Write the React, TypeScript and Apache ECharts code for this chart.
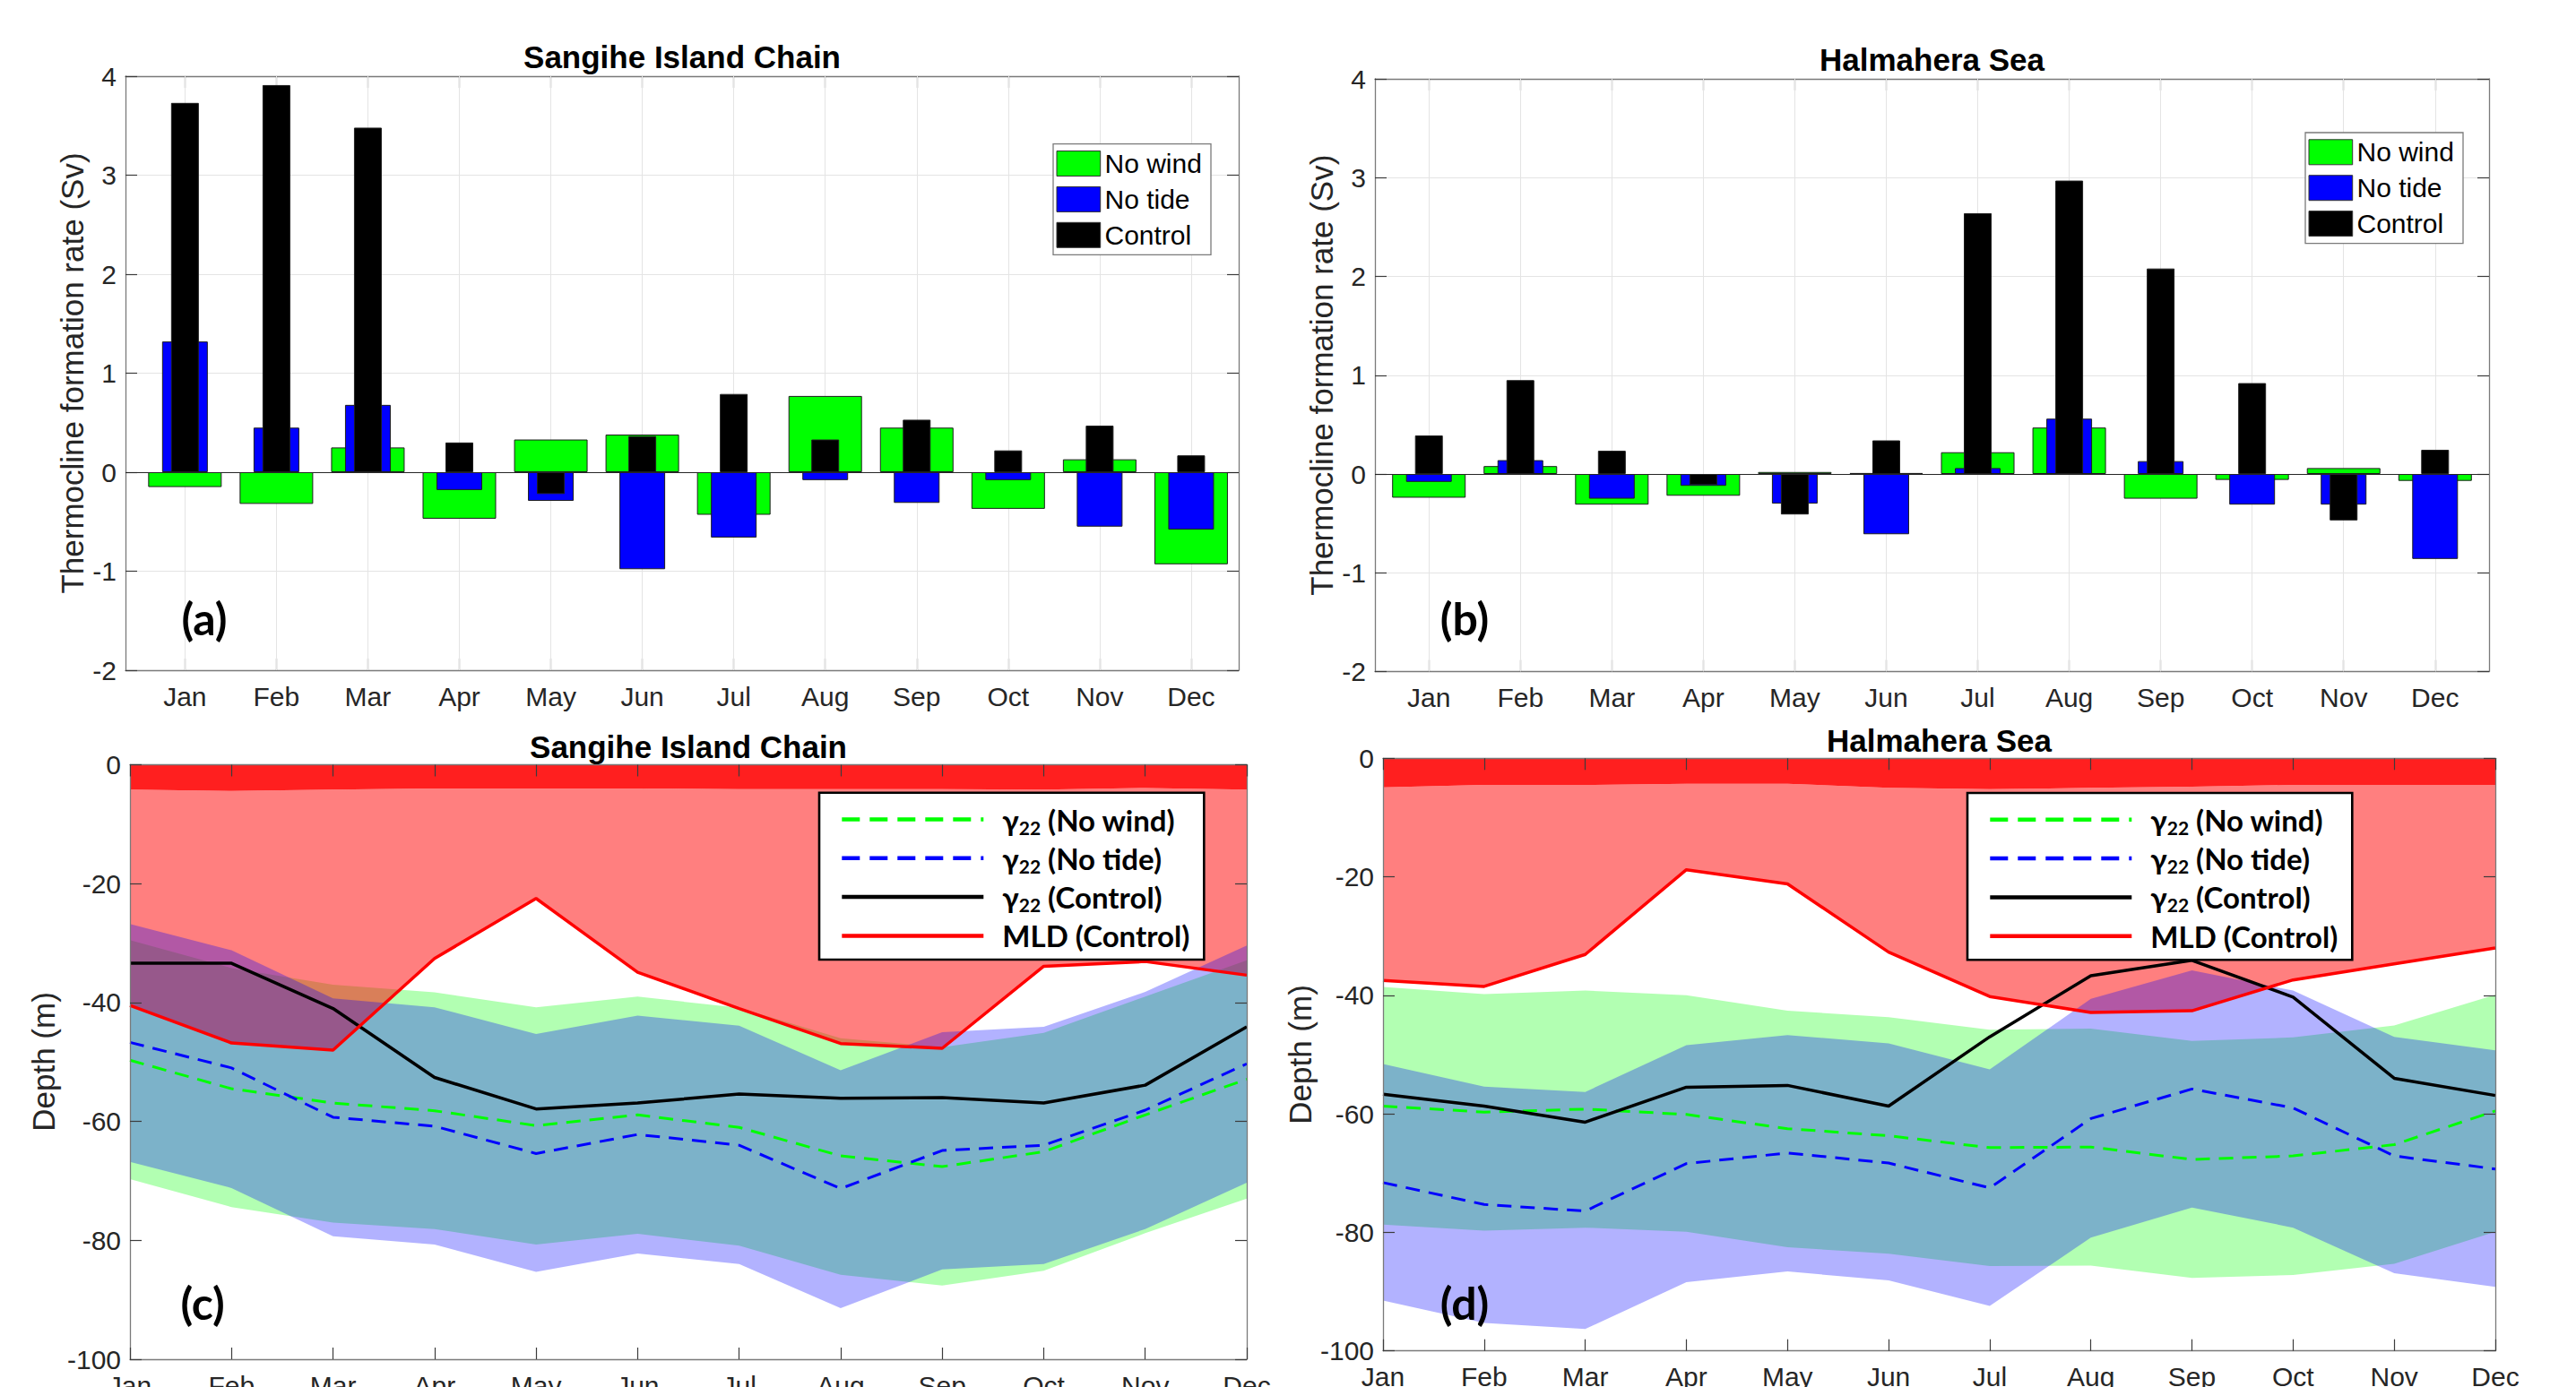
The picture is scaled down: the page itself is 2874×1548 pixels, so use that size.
import React, { useEffect, useRef } from 'react';
import * as echarts from 'echarts';

// ---------- data ----------
const months = ['Jan', 'Feb', 'Mar', 'Apr', 'May', 'Jun', 'Jul', 'Aug', 'Sep', 'Oct', 'Nov', 'Dec'];
const monthPos = [1, 2, 3, 4, 5, 6, 7, 8, 9, 10, 11, 12];

// (a) Sangihe Island Chain – thermocline formation rate (Sv)
const sangiheNoWind = [-0.15, -0.32, 0.25, -0.47, 0.33, 0.38, -0.43, 0.77, 0.45, -0.37, 0.13, -0.93];
const sangiheNoTide = [1.32, 0.45, 0.68, -0.18, -0.29, -0.98, -0.66, -0.08, -0.31, -0.08, -0.55, -0.58];
const sangiheControl = [3.73, 3.91, 3.48, 0.3, -0.22, 0.365, 0.79, 0.33, 0.53, 0.22, 0.47, 0.17];

// (b) Halmahera Sea – thermocline formation rate (Sv)
const halmaheraNoWind = [-0.24, 0.08, -0.31, -0.22, 0.02, 0.01, 0.22, 0.47, -0.25, -0.06, 0.06, -0.07];
const halmaheraNoTide = [-0.08, 0.14, -0.25, -0.12, -0.3, -0.61, 0.06, 0.56, 0.13, -0.31, -0.31, -0.86];
const halmaheraControl = [0.39, 0.95, 0.235, -0.11, -0.41, 0.34, 2.64, 2.97, 2.08, 0.92, -0.47, 0.245];

// (c) Sangihe Island Chain – depth (m)
const sangiheSurface = [-4.2, -4.4, -4.2, -4.0, -4.0, -4.0, -4.1, -4.1, -4.1, -4.2, -3.9, -4.2];
const sangiheMLD = [-40.5, -46.8, -48.0, -32.6, -22.5, -34.9, -41.0, -46.9, -47.7, -33.9, -33.1, -35.4];
const sangiheGammaControl = [-33.4, -33.4, -41.0, -52.6, -57.9, -56.9, -55.4, -56.1, -56.0, -56.9, -53.9, -44.1];
const sangiheGammaNoWind = [-49.7, -54.5, -56.9, -58.2, -60.7, -58.9, -61.0, -65.8, -67.6, -65.1, -58.9, -52.9];
const sangiheGammaNoTide = [-46.7, -51.0, -59.3, -60.8, -65.4, -62.2, -64.0, -71.3, -64.9, -64.0, -58.1, -50.3];
const sangiheNoWindTop = [-29.5, -34.2, -37.0, -38.3, -40.8, -39.0, -40.9, -46.0, -47.5, -45.1, -39.0, -32.9];
const sangiheNoWindBottom = [-69.7, -74.4, -77.0, -78.1, -80.7, -78.9, -80.9, -85.8, -87.6, -85.1, -78.8, -73.0];
const sangiheNoTideTop = [-26.8, -31.2, -39.3, -40.8, -45.3, -42.2, -43.9, -51.4, -45.0, -44.1, -38.2, -30.4];
const sangiheNoTideBottom = [-66.8, -71.2, -79.3, -80.7, -85.3, -82.2, -84.0, -91.4, -84.9, -84.0, -78.1, -70.3];

// (d) Halmahera Sea – depth (m)
const halmaheraSurface = [-4.9, -4.5, -4.5, -4.3, -4.3, -5.0, -5.2, -5.0, -4.8, -4.5, -4.5, -4.5];
const halmaheraMLD = [-37.5, -38.5, -33.1, -18.8, -21.2, -32.7, -40.2, -42.9, -42.6, -37.4, -34.7, -32.0];
const halmaheraGammaControl = [-56.7, -58.7, -61.4, -55.5, -55.2, -58.7, -47.0, -36.7, -34.1, -40.3, -54.0, -56.9];
const halmaheraGammaNoWind = [-58.7, -59.7, -59.2, -60.1, -62.5, -63.7, -65.7, -65.6, -67.7, -67.1, -65.2, -59.5];
const halmaheraGammaNoTide = [-71.6, -75.3, -76.4, -68.4, -66.6, -68.3, -72.5, -60.8, -55.8, -59.0, -67.1, -69.3];
const halmaheraNoWindTop = [-38.6, -39.8, -39.2, -40.0, -42.6, -43.7, -45.8, -45.6, -47.7, -47.1, -45.1, -39.9];
const halmaheraNoWindBottom = [-78.7, -79.7, -79.2, -79.9, -82.5, -83.6, -85.7, -85.6, -87.7, -87.2, -85.3, -79.9];
const halmaheraNoTideTop = [-51.6, -55.4, -56.3, -48.4, -46.7, -48.1, -52.5, -40.6, -35.8, -39.2, -47.0, -49.3];
const halmaheraNoTideBottom = [-91.5, -95.3, -96.3, -88.4, -86.6, -88.1, -92.4, -80.9, -75.8, -79.2, -86.9, -89.2];

// ---------- styles ----------
const FONT = '"Liberation Sans", Arial, Helvetica, sans-serif';
const CAL = 'Lato, "Open Sans", sans-serif';
const TXT = '#262626';
const FRAME = '#7a7a7a';
const TICK = '#3c3c3c';
const GREEN = '#00ff00';
const BLUE = '#0000ff';

const grids = [
  { left: 140, top: 85, width: 1242, height: 663 },
  { left: 1534, top: 88, width: 1243, height: 661.5 },
  { left: 145, top: 853.5, width: 1246, height: 663.5 },
  { left: 1543, top: 846.3, width: 1241, height: 661.4 },
];

const frameLine = { show: true, onZero: false, lineStyle: { color: FRAME, width: 1.3 } };
const tickStyle = { show: true, inside: true, length: 13, lineStyle: { color: TICK, width: 1.2 } };
const labelStyle = { fontSize: 30, color: TXT, fontFamily: FONT };

function barXAxes(gi: number, min: number, max: number) {
  const base = { type: 'value', gridIndex: gi, min, max };
  return [
    {
      ...base,
      position: 'bottom',
      axisLine: frameLine,
      axisTick: { ...tickStyle, customValues: monthPos },
      axisLabel: { ...labelStyle, margin: 14, customValues: monthPos, formatter: (v: number) => months[Math.round(v) - 1] },
      splitLine: { show: false },
    },
    {
      ...base,
      position: 'top',
      axisLine: frameLine,
      axisTick: { ...tickStyle, customValues: monthPos },
      axisLabel: { show: false },
      splitLine: { show: false },
    },
    { ...base, show: false },
  ];
}

function barYAxes(gi: number) {
  const base = { type: 'value', gridIndex: gi, min: -2, max: 4, interval: 1 };
  return [
    {
      ...base,
      position: 'left',
      axisLine: frameLine,
      axisTick: tickStyle,
      axisLabel: { ...labelStyle, margin: 10 },
      splitLine: { show: true, lineStyle: { color: '#e4e4e4', width: 1 } },
    },
    {
      ...base,
      position: 'right',
      axisLine: frameLine,
      axisTick: tickStyle,
      axisLabel: { show: false },
      splitLine: { show: false },
    },
  ];
}

function depthXAxes(gi: number) {
  const base = { type: 'category', gridIndex: gi, data: months, boundaryGap: false, z: 10 };
  return [
    {
      ...base,
      position: 'bottom',
      axisLine: frameLine,
      axisTick: { ...tickStyle, interval: 0 },
      axisLabel: { ...labelStyle, margin: 14, interval: 0 },
      splitLine: { show: false },
    },
    {
      ...base,
      position: 'top',
      axisLine: frameLine,
      axisTick: { ...tickStyle, interval: 0 },
      axisLabel: { show: false },
      splitLine: { show: false },
    },
  ];
}

function depthYAxes(gi: number) {
  const base = { type: 'value', gridIndex: gi, min: -100, max: 0, interval: 20, z: 10 };
  return [
    {
      ...base,
      position: 'left',
      axisLine: frameLine,
      axisTick: tickStyle,
      axisLabel: { ...labelStyle, margin: 10 },
      splitLine: { show: false },
    },
    {
      ...base,
      position: 'right',
      axisLine: frameLine,
      axisTick: tickStyle,
      axisLabel: { show: false },
      splitLine: { show: false },
    },
  ];
}

function barSeries(gi: number, noWind: number[], noTide: number[], control: number[]) {
  const xb = gi * 3;
  const yb = gi * 2;
  const pts = (arr: number[]) => arr.map((v, i) => [monthPos[i], v]);
  return [
    {
      type: 'bar', name: 'No wind', xAxisIndex: xb, yAxisIndex: yb, data: pts(noWind), barWidth: 82,
      itemStyle: { color: GREEN, borderColor: '#1e1e1e', borderWidth: 1 },
      markLine: {
        silent: true, z: 1, symbol: ['none', 'none'], label: { show: false },
        lineStyle: { color: '#e4e4e4', width: 1, type: 'solid' },
        data: monthPos.map((p) => ({ xAxis: p })),
      },
    },
    {
      type: 'bar', name: 'No tide', xAxisIndex: xb + 1, yAxisIndex: yb, data: pts(noTide), barWidth: 51,
      itemStyle: { color: BLUE, borderColor: '#1e1e1e', borderWidth: 1 },
    },
    {
      type: 'bar', name: 'Control', xAxisIndex: xb + 2, yAxisIndex: yb, data: pts(control), barWidth: 31,
      itemStyle: { color: '#000', borderColor: '#1e1e1e', borderWidth: 1 },
      markLine: {
        silent: true, symbol: ['none', 'none'], label: { show: false },
        lineStyle: { color: '#262626', width: 1.2, type: 'solid' },
        data: [{ yAxis: 0 }],
      },
    },
  ];
}

function depthSeries(gi: number, d: {
  surface: number[]; mld: number[]; ctrl: number[]; nw: number[]; nt: number[];
  nwTop: number[]; nwBot: number[]; ntTop: number[]; ntBot: number[];
}) {
  const xi = 6 + (gi - 2) * 2;
  const yi = gi * 2;
  const common = { xAxisIndex: xi, yAxisIndex: yi, symbol: 'none', silent: true, smooth: false };
  const band = (key: string, lower: number[], upper: number[], color: string) => [
    { ...common, type: 'line', stack: key, stackStrategy: 'all', data: lower, lineStyle: { opacity: 0 } },
    {
      ...common, type: 'line', stack: key, stackStrategy: 'all',
      data: upper.map((u, i) => u - lower[i]),
      lineStyle: { opacity: 0 },
      areaStyle: { color, opacity: 1 },
    },
  ];
  const line = (data: number[], color: string, width: number, dashed: boolean) => ({
    ...common, type: 'line', data,
    itemStyle: { color },
    lineStyle: { color, width, type: dashed ? [16, 10] : 'solid' },
  });
  const top = d.surface.map(() => 0);
  return [
    ...band('nw' + gi, d.nwBot, d.nwTop, 'rgba(0,255,0,0.3)'),
    ...band('mld' + gi, d.mld, d.surface, 'rgba(255,0,0,0.5)'),
    line(d.nw, GREEN, 3, true),
    line(d.nt, BLUE, 3, true),
    line(d.ctrl, '#000', 3.5, false),
    line(d.mld, '#ff0000', 3.5, false),
    ...band('nt' + gi, d.ntBot, d.ntTop, 'rgba(0,0,255,0.3)'),
    ...band('sf' + gi, d.surface, top, '#ff1f1f'),
  ];
}

// ---------- graphic texts & legends ----------
function text(t: string, x: number, y: number, size: number, weight: string, family: string, rot = 0, color = '#000') {
  return {
    type: 'text', x, y, rotation: rot, z: 100, silent: true,
    style: { text: t, fontSize: size, fontWeight: weight, fontFamily: family, fill: color, align: 'center', verticalAlign: 'middle' },
  };
}

function barLegend(x0: number, y0: number) {
  const items = [
    { name: 'No wind', color: GREEN },
    { name: 'No tide', color: BLUE },
    { name: 'Control', color: '#000' },
  ];
  const els: any[] = [
    { type: 'rect', z: 90, silent: true, shape: { x: x0, y: y0, width: 176, height: 123.6 }, style: { fill: '#fff', stroke: '#7a7a7a', lineWidth: 1.3 } },
  ];
  items.forEach((it, i) => {
    els.push({ type: 'rect', z: 91, silent: true, shape: { x: x0 + 4, y: y0 + 7.8 + i * 39.9, width: 48.7, height: 28 }, style: { fill: it.color, stroke: '#333', lineWidth: 1 } });
    els.push({
      type: 'text', z: 92, silent: true, x: x0 + 57.5, y: y0 + 21.8 + i * 39.9,
      style: { text: it.name, fontSize: 30, fontFamily: FONT, fill: '#000', align: 'left', verticalAlign: 'middle' },
    });
  });
  return els;
}

const richBase = { fontFamily: CAL, fontWeight: 'bold', fill: '#000', color: '#000' };
function lineLegend(x0: number, y0: number) {
  const items = [
    { label: '(No wind)', color: GREEN, dash: true, gamma: true },
    { label: '(No tide)', color: BLUE, dash: true, gamma: true },
    { label: '(Control)', color: '#000', dash: false, gamma: true },
    { label: 'MLD (Control)', color: '#ff0000', dash: false, gamma: false },
  ];
  const els: any[] = [
    { type: 'rect', z: 90, silent: true, shape: { x: x0, y: y0, width: 429.3, height: 186.3 }, style: { fill: '#fff', stroke: '#000', lineWidth: 2.6 } },
  ];
  items.forEach((it, i) => {
    const y = y0 + 29.8 + i * 43.3;
    els.push({
      type: 'line', z: 91, silent: true,
      shape: { x1: x0 + 25.3, y1: y, x2: x0 + 183.3, y2: y },
      style: { stroke: it.color, lineWidth: 4.5, lineDash: it.dash ? [20, 11] : null },
    });
    els.push({
      type: 'text', z: 92, silent: true, x: x0 + 204.3, y,
      style: {
        text: it.gamma ? `{g|γ}{s|22}{t| ${it.label}}` : `{t|${it.label}}`,
        align: 'left', verticalAlign: 'middle',
        rich: {
          g: { ...richBase, fontSize: 33, lineHeight: 38 },
          s: { ...richBase, fontSize: 21, lineHeight: 15, verticalAlign: 'bottom' },
          t: { ...richBase, fontSize: 33, lineHeight: 38 },
        },
      },
    });
  });
  return els;
}

function buildOption() {
  const graphic = [
    text('Sangihe Island Chain', 761, 63, 35, 'bold', FONT),
    text('Halmahera Sea', 2155.5, 66, 35, 'bold', FONT),
    text('Sangihe Island Chain', 768, 833, 35, 'bold', FONT),
    text('Halmahera Sea', 2163.5, 826, 35, 'bold', FONT),
    text('Thermocline formation rate (Sv)', 80, 416.5, 35, 'normal', FONT, Math.PI / 2, TXT),
    text('Thermocline formation rate (Sv)', 1474, 418.7, 35, 'normal', FONT, Math.PI / 2, TXT),
    text('Depth (m)', 48, 1185, 35, 'normal', FONT, Math.PI / 2, TXT),
    text('Depth (m)', 1450, 1177, 35, 'normal', FONT, Math.PI / 2, TXT),
    text('(a)', 228, 690, 50, 'bold', CAL),
    text('(b)', 1634, 690, 50, 'bold', CAL),
    text('(c)', 226, 1454, 50, 'bold', CAL),
    text('(d)', 1634, 1454, 50, 'bold', CAL),
    ...barLegend(1175, 160.7),
    ...barLegend(2572, 148),
    ...lineLegend(914, 884.7),
    ...lineLegend(2195, 885),
  ];

  return {
    animation: false,
    backgroundColor: '#fff',
    grid: grids.map((g) => ({ ...g, containLabel: false, outerBoundsMode: 'none' })),
    xAxis: [
      ...barXAxes(0, 0.35, 12.52),
      ...barXAxes(1, 0.41, 12.59),
      ...depthXAxes(2),
      ...depthXAxes(3),
    ],
    yAxis: [...barYAxes(0), ...barYAxes(1), ...depthYAxes(2), ...depthYAxes(3)],
    series: [
      ...barSeries(0, sangiheNoWind, sangiheNoTide, sangiheControl),
      ...barSeries(1, halmaheraNoWind, halmaheraNoTide, halmaheraControl),
      ...depthSeries(2, {
        surface: sangiheSurface, mld: sangiheMLD, ctrl: sangiheGammaControl, nw: sangiheGammaNoWind, nt: sangiheGammaNoTide,
        nwTop: sangiheNoWindTop, nwBot: sangiheNoWindBottom, ntTop: sangiheNoTideTop, ntBot: sangiheNoTideBottom,
      }),
      ...depthSeries(3, {
        surface: halmaheraSurface, mld: halmaheraMLD, ctrl: halmaheraGammaControl, nw: halmaheraGammaNoWind, nt: halmaheraGammaNoTide,
        nwTop: halmaheraNoWindTop, nwBot: halmaheraNoWindBottom, ntTop: halmaheraNoTideTop, ntBot: halmaheraNoTideBottom,
      }),
    ],
    graphic,
  };
}

export default function App() {
  const ref = useRef<HTMLDivElement>(null);
  useEffect(() => {
    document.body.style.margin = '0';
    const chart = echarts.init(ref.current as HTMLDivElement, undefined, { renderer: 'svg' });
    chart.setOption(buildOption() as any);
    return () => chart.dispose();
  }, []);
  return <div ref={ref} style={{ width: 2874, height: 1548, overflow: 'hidden' }} />;
}
